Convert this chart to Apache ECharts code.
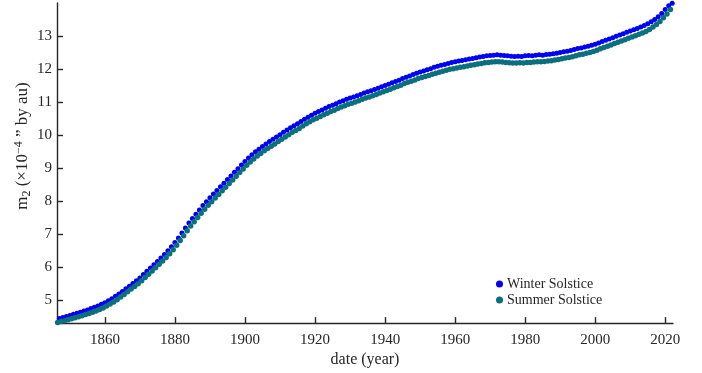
<!DOCTYPE html>
<html>
<head>
<meta charset="utf-8">
<script src="https://cdn.jsdelivr.net/npm/echarts@6/dist/echarts.min.js"></script>
<style>
  html, body { margin: 0; padding: 0; background: #ffffff; }
  #chart { width: 702px; height: 373px; }
</style>
</head>
<body>
<div id="chart"></div>
<script>
// Annual series, one value per year 1846..2021
const firstYear = 1846;
const lastYear = 2021;

// fraction of the year at which each solstice falls
const winterFraction = 0.97; // ~21 December
const summerFraction = 0.47; // ~21 June

const winterValues = [
  4.44, 4.47, 4.50, 4.53, 4.57, 4.60, 4.63, 4.67, 4.70, 4.74,
  4.78, 4.82, 4.87, 4.92, 4.98, 5.04, 5.11, 5.18, 5.26, 5.34,
  5.42, 5.50, 5.58, 5.67, 5.77, 5.87, 5.97, 6.07, 6.17, 6.27,
  6.38, 6.49, 6.61, 6.74, 6.88, 7.03, 7.18, 7.33, 7.47, 7.60,
  7.73, 7.86, 7.98, 8.10, 8.21, 8.32, 8.43, 8.54, 8.65, 8.76,
  8.87, 8.98, 9.09, 9.20, 9.30, 9.40, 9.49, 9.57, 9.65, 9.73,
  9.80, 9.87, 9.94, 10.01, 10.08, 10.15, 10.22, 10.28, 10.34, 10.41,
  10.48, 10.54, 10.60, 10.66, 10.71, 10.76, 10.81, 10.86, 10.90, 10.95,
  11.00, 11.04, 11.08, 11.12, 11.15, 11.19, 11.23, 11.27, 11.31, 11.34,
  11.38, 11.42, 11.46, 11.50, 11.54, 11.58, 11.62, 11.66, 11.71, 11.75,
  11.79, 11.83, 11.87, 11.91, 11.94, 11.98, 12.01, 12.05, 12.08, 12.11,
  12.14, 12.17, 12.20, 12.22, 12.24, 12.26, 12.28, 12.30, 12.32, 12.34,
  12.36, 12.38, 12.40, 12.41, 12.42, 12.43, 12.42, 12.41, 12.40, 12.39,
  12.38, 12.39, 12.38, 12.40, 12.41, 12.40, 12.42, 12.43, 12.42, 12.44,
  12.45, 12.46, 12.48, 12.50, 12.52, 12.54, 12.56, 12.59, 12.62, 12.64,
  12.67, 12.69, 12.72, 12.75, 12.79, 12.83, 12.87, 12.91, 12.95, 12.99,
  13.03, 13.07, 13.11, 13.15, 13.19, 13.23, 13.27, 13.32, 13.37, 13.43,
  13.50, 13.58, 13.68, 13.80, 13.92, 13.99
];

const summerValues = [
  4.32, 4.35, 4.37, 4.40, 4.43, 4.46, 4.49, 4.52, 4.56, 4.59,
  4.63, 4.67, 4.71, 4.76, 4.82, 4.88, 4.94, 5.01, 5.09, 5.17,
  5.25, 5.33, 5.41, 5.49, 5.58, 5.68, 5.78, 5.88, 5.98, 6.08,
  6.18, 6.29, 6.40, 6.52, 6.66, 6.80, 6.95, 7.10, 7.24, 7.37,
  7.50, 7.63, 7.75, 7.87, 7.98, 8.09, 8.20, 8.31, 8.42, 8.53,
  8.64, 8.75, 8.86, 8.97, 9.08, 9.18, 9.27, 9.36, 9.44, 9.52,
  9.59, 9.66, 9.73, 9.80, 9.87, 9.94, 10.01, 10.08, 10.14, 10.20,
  10.27, 10.34, 10.40, 10.46, 10.51, 10.56, 10.61, 10.66, 10.71, 10.75,
  10.80, 10.85, 10.89, 10.93, 10.96, 11.00, 11.04, 11.08, 11.12, 11.15,
  11.19, 11.23, 11.27, 11.31, 11.35, 11.39, 11.43, 11.47, 11.51, 11.56,
  11.60, 11.63, 11.67, 11.71, 11.74, 11.77, 11.80, 11.84, 11.87, 11.90,
  11.93, 11.96, 11.99, 12.01, 12.03, 12.05, 12.07, 12.09, 12.11, 12.13,
  12.15, 12.17, 12.19, 12.20, 12.21, 12.22, 12.22, 12.21, 12.20, 12.19,
  12.18, 12.18, 12.19, 12.18, 12.20, 12.20, 12.21, 12.22, 12.22, 12.23,
  12.24, 12.25, 12.27, 12.29, 12.31, 12.33, 12.35, 12.37, 12.40, 12.43,
  12.45, 12.48, 12.50, 12.53, 12.57, 12.61, 12.65, 12.69, 12.73, 12.77,
  12.81, 12.85, 12.89, 12.93, 12.97, 13.01, 13.05, 13.09, 13.14, 13.20,
  13.27, 13.35, 13.44, 13.55, 13.67, 13.80
];

const xTickYears = [1860, 1880, 1900, 1920, 1940, 1960, 1980, 2000, 2020];
const yTickValues = [5, 6, 7, 8, 9, 10, 11, 12, 13];

const seriesNames = ['Winter Solstice', 'Summer Solstice'];

const years = [];
for (let y = firstYear; y <= lastYear; y++) years.push(y);

function pairs(values, fraction) {
  return years.map((y, i) => [y + fraction, values[i]]);
}

const axisColor = '#262626';
const serif = '"Liberation Serif", "Times New Roman", serif';

const chart = echarts.init(document.getElementById('chart'), null, { renderer: 'canvas' });

chart.setOption({
  animation: false,
  backgroundColor: '#ffffff',
  textStyle: { fontFamily: serif, color: axisColor },
  grid: { left: 57, right: 29, top: 3, bottom: 46, containLabel: false },
  legend: {
    orient: 'vertical',
    left: 491,
    top: 272,
    itemWidth: 7,
    itemHeight: 7,
    itemGap: 2,
    icon: 'circle',
    textStyle: { fontFamily: serif, fontSize: 14, color: axisColor, padding: [0, 0, 0, -1] },
    data: seriesNames
  },
  xAxis: {
    type: 'value',
    min: 1846.3,
    max: 2022.2,
    name: 'date (year)',
    nameLocation: 'middle',
    nameGap: 25,
    nameTextStyle: { fontFamily: serif, fontSize: 16, color: axisColor },
    axisLine: { show: true, onZero: false, lineStyle: { color: axisColor, width: 1.4 } },
    axisTick: { show: true, inside: true, length: 6, customValues: xTickYears,
                lineStyle: { color: axisColor, width: 1.4 } },
    axisLabel: { customValues: xTickYears, fontFamily: serif, fontSize: 15, color: axisColor, margin: 9,
                 formatter: v => String(v) },
    splitLine: { show: false }
  },
  yAxis: {
    type: 'value',
    min: 4.3,
    max: 14.0,
    name: '{t|m}{s|2}{t| (×10}{p|−4}{t| ” by au)}',
    nameLocation: 'middle',
    nameGap: 24,
    nameMoveOverlap: false,
    nameRotate: 90,
    nameTextStyle: {
      fontFamily: serif, fontSize: 17, color: axisColor,
      padding: [0, 0, 0, 34],
      rich: {
        t: { fontFamily: serif, fontSize: 17, color: axisColor, lineHeight: 20 },
        s: { fontFamily: serif, fontSize: 12, color: axisColor, lineHeight: 20, verticalAlign: 'bottom', padding: [6, 0, 0, 0] },
        p: { fontFamily: serif, fontSize: 12, color: axisColor, lineHeight: 20, verticalAlign: 'top', padding: [0, 0, 8, 0] }
      }
    },
    axisLine: { show: true, onZero: false, lineStyle: { color: axisColor, width: 1.4 } },
    axisTick: { show: true, inside: true, length: 6, customValues: yTickValues,
                lineStyle: { color: axisColor, width: 1.4 } },
    axisLabel: { customValues: yTickValues, fontFamily: serif, fontSize: 15, color: axisColor, margin: 5 },
    splitLine: { show: false }
  },
  series: [
    {
      name: seriesNames[0],
      type: 'scatter',
      symbol: 'circle',
      symbolSize: 5,
      itemStyle: { color: '#0000f5', opacity: 1 },
      data: pairs(winterValues, winterFraction)
    },
    {
      name: seriesNames[1],
      type: 'scatter',
      symbol: 'circle',
      symbolSize: 5.5,
      itemStyle: { color: '#0b6f7d', opacity: 1 },
      data: pairs(summerValues, summerFraction)
    }
  ]
});
</script>
</body>
</html>
